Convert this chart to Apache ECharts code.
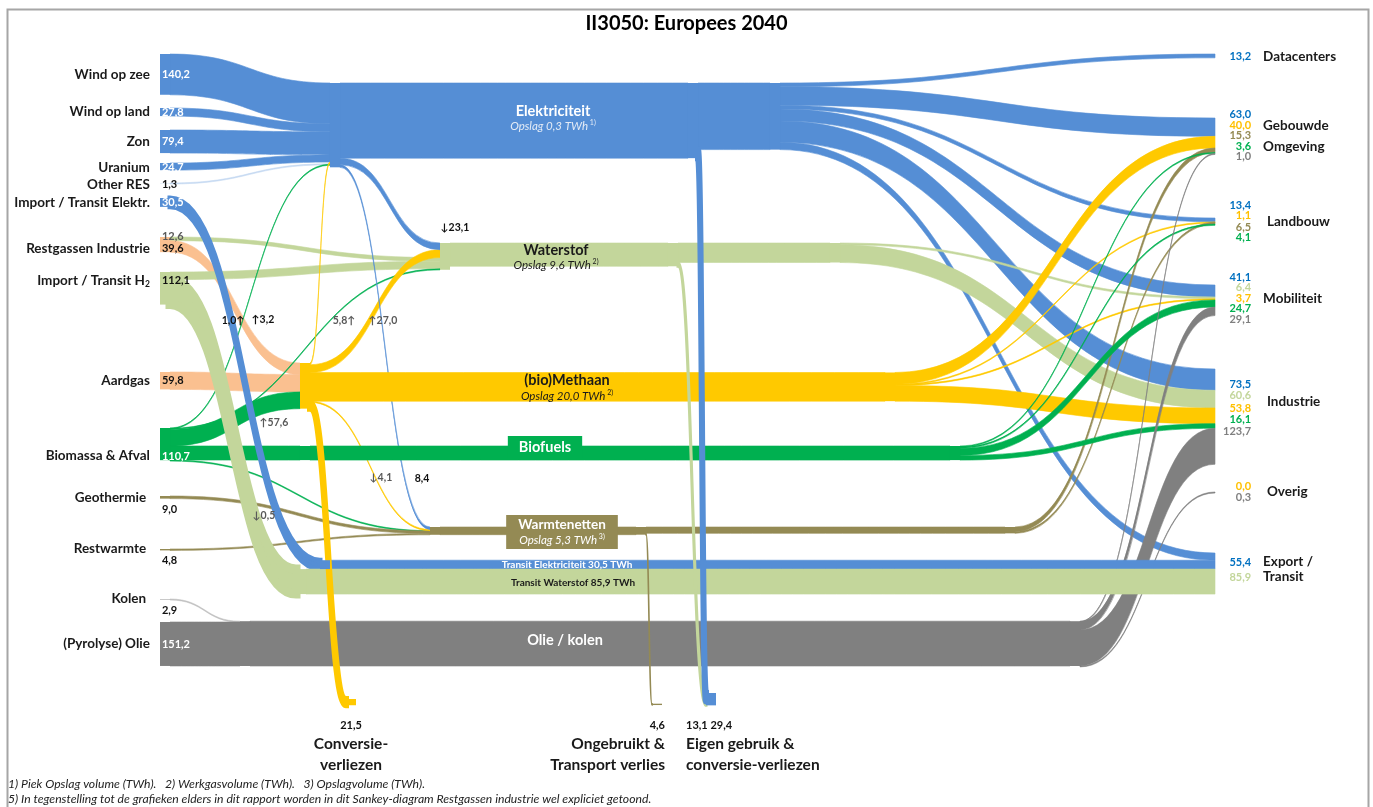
<!DOCTYPE html>
<html>
<head>
<meta charset="utf-8">
<title>II3050: Europees 2040</title>
<script src="https://cdn.jsdelivr.net/npm/echarts@6/dist/echarts.min.js"></script>
<style>
  html, body { margin: 0; padding: 0; background: #fff; }
  #chart { width: 1373px; height: 807px; }
</style>
</head>
<body>
<div id="chart"></div>
<script>
// ---------- data (TWh) ----------
const sources = ['Wind op zee', 'Wind op land', 'Zon', 'Uranium', 'Other RES', 'Import / Transit Elektr.',
  'Restgassen Industrie', 'Import / Transit H2', 'Aardgas', 'Biomassa & Afval', 'Geothermie',
  'Restwarmte', 'Kolen', '(Pyrolyse) Olie'];
const carriers = ['Elektriciteit', 'Waterstof', '(bio)Methaan', 'Warmtenetten', 'Biofuels', 'Olie / kolen'];
const sectors = ['Datacenters', 'Gebouwde Omgeving', 'Landbouw', 'Mobiliteit', 'Industrie', 'Overig', 'Export / Transit'];
const losses = ['Conversieverliezen', 'Ongebruikt & Transport verlies', 'Eigen gebruik & conversie-verliezen'];

// primary supply -> carrier
const supplyFlows = [
  ['Wind op zee', 'Elektriciteit', 140.2],
  ['Wind op land', 'Elektriciteit', 27.8],
  ['Zon', 'Elektriciteit', 79.4],
  ['Uranium', 'Elektriciteit', 24.7],
  ['Other RES', 'Elektriciteit', 1.3],
  ['Restgassen Industrie', 'Waterstof', 12.6],
  ['Restgassen Industrie', '(bio)Methaan', 39.6],
  ['Import / Transit H2', 'Waterstof', 26.2],
  ['Aardgas', '(bio)Methaan', 59.8],
  ['Biomassa & Afval', 'Elektriciteit', 1.0],
  ['Biomassa & Afval', 'Waterstof', 3.2],
  ['Biomassa & Afval', '(bio)Methaan', 57.6],
  ['Biomassa & Afval', 'Biofuels', 48.4],
  ['Biomassa & Afval', 'Warmtenetten', 0.5],
  ['Geothermie', 'Warmtenetten', 9.0],
  ['Restwarmte', 'Warmtenetten', 4.8],
  ['Kolen', 'Olie / kolen', 2.9],
  ['(Pyrolyse) Olie', 'Olie / kolen', 151.2]
];
// conversion between carriers
const conversionFlows = [
  ['(bio)Methaan', 'Elektriciteit', 5.8],
  ['(bio)Methaan', 'Waterstof', 27.0],
  ['Elektriciteit', 'Waterstof', 23.1],
  ['(bio)Methaan', 'Warmtenetten', 4.1],
  ['Elektriciteit', 'Warmtenetten', 8.4]
];
// transit: source, carrier, sector, value
const transitFlows = [
  ['Import / Transit Elektr.', 'Elektriciteit', 'Export / Transit', 30.5],
  ['Import / Transit H2', 'Waterstof', 'Export / Transit', 85.9]
];
// final use per sector, in carrier order (null = no flow)
const useDatacenters = [13.2, null, null, null, null, null];
const useGebouwde = [63.0, null, 40.0, 15.3, 3.6, 1.0];
const useLandbouw = [13.4, null, 1.1, 6.5, 4.1, null];
const useMobiliteit = [41.1, 6.4, 3.7, null, 24.7, 29.1];
const useIndustrie = [73.5, 60.6, 53.8, null, 16.1, 123.7];
const useOverig = [null, null, 0.0, null, null, 0.3];
const useExport = [24.9, null, null, null, null, null];
const sectorUse = [useDatacenters, useGebouwde, useLandbouw, useMobiliteit, useIndustrie, useOverig, useExport];
// losses
const lossFlows = [
  ['(bio)Methaan', 'Conversieverliezen', 21.5],
  ['Warmtenetten', 'Ongebruikt & Transport verlies', 4.6],
  ['Waterstof', 'Eigen gebruik & conversie-verliezen', 13.1],
  ['Elektriciteit', 'Eigen gebruik & conversie-verliezen', 29.4]
];
// storage (TWh) and footnote per carrier
const storage = [0.3, 9.6, 20.0, 5.3, null, null];
const storageNote = ['1)', '2)', '2)', '3)', null, null];

// ---------- styling / layout ----------
const FONT = 'Lato, "Liberation Sans", sans-serif';
const BOX = { left: 160, top: 40, width: 1373 - 160 - 158, height: 807 - 40 - 97 };
const C = {
  elec: '#558ED5', h2: '#C3D69B', ch4: '#FFC900', gas: '#FAC090', bio: '#00B050',
  heat: '#948A54', oil: '#808080', coal: '#BFBFBF', res: '#C5D9F1'
};
const carrierColor = [C.elec, C.h2, C.ch4, C.heat, C.bio, C.oil];
const sourceColor = {
  'Wind op zee': C.elec, 'Wind op land': C.elec, 'Zon': C.elec, 'Uranium': C.elec, 'Other RES': C.res,
  'Import / Transit Elektr.': C.elec, 'Restgassen Industrie': C.gas, 'Import / Transit H2': C.h2,
  'Aardgas': C.gas, 'Biomassa & Afval': C.bio, 'Geothermie': C.heat, 'Restwarmte': C.heat,
  'Kolen': C.coal, '(Pyrolyse) Olie': C.oil
};
const lossColor = { 'Conversieverliezen': C.ch4, 'Ongebruikt & Transport verlies': C.heat, 'Eigen gebruik & conversie-verliezen': C.elec };

// node id, depth, x, y (px, top-left of node)
const placement = [
  ['Wind op zee', 0, 160, 54], ['Wind op land', 0, 160, 108], ['Zon', 0, 160, 130],
  ['Uranium', 0, 160, 163], ['Other RES', 0, 160, 183], ['Import / Transit Elektr.', 0, 160, 198],
  ['Restgassen Industrie', 0, 160, 237], ['Import / Transit H2', 0, 160, 272], ['Aardgas', 0, 160, 372],
  ['Biomassa & Afval', 0, 160, 428], ['Geothermie', 0, 160, 496], ['Restwarmte', 0, 160, 549],
  ['Kolen', 0, 160, 599], ['(Pyrolyse) Olie', 0, 160, 622],
  ['Elektriciteit', 1, 330, 83], ['Waterstof', 1, 440, 243], ['(bio)Methaan', 1, 300, 363],
  ['Biofuels', 1, 300, 446], ['Warmtenetten', 1, 430, 527], ['Olie / kolen', 1, 240, 621.2],
  ['transit:Elektriciteit', 1, 320, 560.2], ['transit:Waterstof', 1, 296, 569.1],
  ['mid:Elektriciteit', 2, 688, 83], ['mid:Waterstof', 2, 668, 243], ['mid:Warmtenetten', 2, 636, 527],
  ['out:Elektriciteit', 3, 770, 83], ['out:Waterstof', 3, 830, 243], ['out:(bio)Methaan', 3, 885, 372.5],
  ['out:Warmtenetten', 3, 1005, 527], ['out:Biofuels', 3, 950, 446], ['out:Olie / kolen', 3, 1070, 621.2],
  ['Conversieverliezen', 3, 346, 699], ['Ongebruikt & Transport verlies', 3, 652, 703.7],
  ['Eigen gebruik & conversie-verliezen', 3, 706, 693],
  ['Datacenters', 4, 1215, 54], ['Gebouwde Omgeving', 4, 1215, 118], ['Landbouw', 4, 1215, 218],
  ['Mobiliteit', 4, 1215, 285], ['Industrie', 4, 1215, 369], ['Overig', 4, 1215, 492],
  ['Export / Transit', 4, 1215, 553]
];
const hasMid = id => placement.some(p => p[0] === 'mid:' + id);
// extra outline on steep links so they keep a visible width
const linkStroke = {
  '(bio)Methaan>Conversieverliezen': 6,
  'mid:Elektriciteit>Eigen gebruik & conversie-verliezen': 6,
  'mid:Waterstof>Eigen gebruik & conversie-verliezen': 3,
  'mid:Warmtenetten>Ongebruikt & Transport verlies': 1.6,
  'Import / Transit Elektr.>transit:Elektriciteit': 5,
  'Import / Transit H2>transit:Waterstof': 9
};

const fmt = v => v.toFixed(1).replace('.', ',');
const FS = '\u2007';
const padR = s => s + FS.repeat(Math.max(0, 5 - s.length));
const padL = s => FS.repeat(Math.max(0, 5 - s.length)) + s;

// ---------- labels ----------
const srcRich = {
  n: { fontFamily: FONT, fontSize: 13.5, fontWeight: 'bold', color: '#1a1a1a', lineHeight: 12 },
  sub: { fontFamily: FONT, fontSize: 8.5, fontWeight: 'bold', color: '#1a1a1a', lineHeight: 12, padding: [7, 0, 0, 0] },
  vw: { fontFamily: FONT, fontSize: 11, fontWeight: 'bold', color: '#ffffff', padding: [0, 0, 0, 12], lineHeight: 12 },
  vk: { fontFamily: FONT, fontSize: 11, fontWeight: 'bold', color: '#111111', padding: [0, 0, 0, 12], lineHeight: 12 },
  vg: { fontFamily: FONT, fontSize: 11, fontWeight: 'bold', color: '#595959', padding: [0, 0, 0, 12], lineHeight: 12 }
};
const sourceValueStyle = { 'Other RES': 'vk', 'Import / Transit H2': 'vk', 'Aardgas': 'vk' };
const sourceBelow = ['Geothermie', 'Restwarmte', 'Kolen'];
const sourceDy = { 'Biomassa & Afval': 12, 'Geothermie': 6, 'Restwarmte': 5, 'Kolen': 5,
  'Restgassen Industrie': -2, 'Import / Transit H2': -8, 'Uranium': 1, 'Other RES': 1 };

function sourceLabel(name) {
  const flows = supplyFlows.filter(f => f[0] === name).concat(transitFlows.filter(f => f[0] === name).map(f => [f[0], f[2], f[3]]));
  const total = flows.reduce((s, f) => s + f[2], 0);
  let text;
  if (name === 'Restgassen Industrie') {
    text = flows.map((f, i) => (i === 1 ? `{n|${name}}` : '') + `{${i === 0 ? 'vg' : 'vk'}|${padR(fmt(f[2]))}}`).join('\n');
  } else if (name === 'Import / Transit H2') {
    text = `{n|Import / Transit H}{sub|2}{vk|${padR(fmt(total))}}`;
  } else if (sourceBelow.includes(name)) {
    text = `{n|${name}}{vk|${FS.repeat(5)}}\n{vk|${padR(fmt(total))}}`;
  } else {
    text = `{n|${name}}{${sourceValueStyle[name] || 'vw'}|${padR(fmt(total))}}`;
  }
  return { show: true, position: 'left', distance: 0, align: 'right', offset: [30, sourceDy[name] || 0], formatter: text, rich: srcRich };
}

const sinkKeys = ['vE', 'vH', 'vM', 'vW', 'vB', 'vO'];
const sinkColors = ['#0070C0', '#C3D69B', '#FFC000', '#948A54', '#00B050', '#7F7F7F'];
const sinkRich = { nm: { fontFamily: FONT, fontSize: 13.5, fontWeight: 'bold', color: '#1a1a1a', padding: [0, 0, 0, 12] },
  nmo: { fontFamily: FONT, fontSize: 13.5, fontWeight: 'bold', color: '#1a1a1a', padding: [0, 0, 0, 12], lineHeight: 1 },
  vp: { fontFamily: FONT, fontSize: 11, fontWeight: 'bold', color: 'rgba(0,0,0,0)', lineHeight: 1 } };
sinkKeys.forEach((k, i) => { sinkRich[k] = { fontFamily: FONT, fontSize: 11, fontWeight: 'bold', color: sinkColors[i] }; });
// where the sector name goes: integer = beside value line i, .5 = own line between
const sectorNameSlots = {
  'Datacenters': [['Datacenters', 0]], 'Gebouwde Omgeving': [['Gebouwde', 1], ['Omgeving', 3]],
  'Landbouw': [['Landbouw', 1.5]], 'Mobiliteit': [['Mobiliteit', 2]], 'Industrie': [['Industrie', 1.5]],
  'Overig': [['Overig', 0.5]], 'Export / Transit': [['Export /', 0], ['Transit', 1]]
};
const sectorLine = { 'Industrie': 11.5, 'Export / Transit': 15 };
const sectorDy = { 'Mobiliteit': -2, 'Industrie': -9, 'Export / Transit': -4, 'Datacenters': 1 };

function sectorLabel(sector) {
  const si = sectors.indexOf(sector);
  const vals = [];
  carriers.forEach((c, ci) => {
    let v = sectorUse[si][ci];
    transitFlows.filter(t => t[2] === sector && t[1] === c).forEach(t => { v = (v || 0) + t[3]; });
    if (v != null) vals.push(`{${sinkKeys[ci]}|${padL(fmt(v))}}`);
  });
  const slots = sectorNameSlots[sector];
  slots.filter(s => Number.isInteger(s[1])).forEach(s => { vals[s[1]] += `{nm|${s[0]}}`; });
  slots.filter(s => !Number.isInteger(s[1])).reverse().forEach(s => {
    vals.splice(Math.ceil(s[1]), 0, `{vp|${FS.repeat(5)}}{nmo|${s[0]}}`);
  });
  return { show: true, position: 'right', distance: -2, lineHeight: sectorLine[sector] || 10.5,
    offset: [0, sectorDy[sector] || 0], formatter: vals.join('\n'), rich: sinkRich };
}

const lossRich = {
  v: { fontFamily: FONT, fontSize: 11, fontWeight: 'bold', color: '#111', lineHeight: 16 },
  n: { fontFamily: FONT, fontSize: 15.5, fontWeight: 'bold', color: '#1a1a1a', lineHeight: 21 }
};
const lossLabelPos = {
  'Conversieverliezen': { lines: ['Conversie-', 'verliezen'], align: 'center', dx: 0 },
  'Ongebruikt & Transport verlies': { lines: ['Ongebruikt &', 'Transport verlies'], align: 'right', dx: 8 },
  'Eigen gebruik & conversie-verliezen': { lines: ['Eigen gebruik &', 'conversie-verliezen'], align: 'left', dx: -25 }
};
function lossLabel(name) {
  const vals = lossFlows.filter(f => f[1] === name).map(f => f[2]).sort((a, b) => a - b).map(fmt).join(' ');
  const p = lossLabelPos[name];
  return { show: true, position: 'bottom', distance: 12, align: p.align, offset: [p.dx, 0],
    formatter: `{v|${vals}}\n` + p.lines.map(l => `{n|${l}}`).join('\n'), rich: lossRich };
}

// carrier band labels (centre offsets from the in-node)
const carrierLabel = {
  'Elektriciteit': { dx: 218, dy: -7, t: '#ffffff', s: '#e3ebf6' },
  'Waterstof': { dx: 111, dy: 1, t: '#1a1a1a', s: '#1a1a1a' },
  '(bio)Methaan': { dx: 262, dy: 2, t: '#1a1a1a', s: '#1a1a1a' },
  'Warmtenetten': { dx: 127, dy: 1, t: '#ffffff', s: '#ffffff', box: C.heat },
  'Biofuels': { dx: 240, dy: -6, t: '#ffffff', s: '#ffffff', box: C.bio },
  'Olie / kolen': { dx: 320, dy: -3, t: '#ffffff', s: '#ffffff' }
};
function carrierBandLabel(c) {
  const ci = carriers.indexOf(c);
  const st = carrierLabel[c];
  let text = `{t|${c}}`;
  if (storage[ci] != null) text += `\n{s|Opslag ${fmt(storage[ci])} TWh}{sup| ${storageNote[ci]}}`;
  return {
    show: true, position: 'inside', offset: [st.dx, st.dy], formatter: text,
    backgroundColor: st.box || 'transparent', padding: st.box ? (storage[ci] != null ? [2, 12] : [3, 11]) : 0,
    rich: {
      t: { fontFamily: FONT, fontSize: c === 'Warmtenetten' ? 13.5 : 14.5, fontWeight: 'bold', color: st.t, lineHeight: 16 },
      s: { fontFamily: FONT, fontSize: 11.5, fontStyle: 'italic', color: st.s, lineHeight: 14 },
      sup: { fontFamily: FONT, fontSize: 7, color: st.s, lineHeight: 14, verticalAlign: 'top' }
    }
  };
}
const transitLabel = {
  'transit:Elektriciteit': { text: 'Transit Elektriciteit', dx: 242, dy: 0, color: '#ffffff' },
  'transit:Waterstof': { text: 'Transit Waterstof', dx: 272, dy: 1, color: '#1a1a1a' }
};

// small flow annotations: arrow, arrow before/after, offset, bold
const flowNotes = {
  'Biomassa & Afval>Elektriciteit': ['↑', 'after', [-17, 24], true],
  'Biomassa & Afval>Waterstof': ['↑', 'before', [-42, -29], true],
  'Biomassa & Afval>(bio)Methaan': ['↑', 'before', [39, 4], false],
  'Biomassa & Afval>Warmtenetten': ['↓', 'before', [-36, 20], false],
  '(bio)Methaan>Elektriciteit': ['↑', 'after', [24, 57], false],
  '(bio)Methaan>Waterstof': ['↑', 'before', [8, 9], false],
  '(bio)Methaan>Warmtenetten': ['↓', 'before', [11, 12], false],
  'Elektriciteit>Warmtenetten': ['', 'before', [37, 131], true],
  'Elektriciteit>Waterstof': ['↓', 'before', [65, 24], true]
};

// ---------- build nodes ----------
function nodeFill(id) {
  if (sourceColor[id]) return sourceColor[id];
  const base = id.replace(/^(mid|out|transit):/, '');
  if (carriers.includes(base)) return carrierColor[carriers.indexOf(base)];
  if (lossColor[id]) return lossColor[id];
  return 'rgba(0,0,0,0)';
}
const nodes = placement.map(([id, depth, x, y]) => {
  const node = {
    name: id, depth,
    localX: (x - BOX.left) / BOX.width, localY: (y - BOX.top) / BOX.height,
    itemStyle: { color: nodeFill(id), borderWidth: 0 },
    label: { show: false }
  };
  if (sources.includes(id)) node.label = sourceLabel(id);
  else if (sectors.includes(id)) node.label = sectorLabel(id);
  else if (losses.includes(id)) node.label = lossLabel(id);
  else if (carriers.includes(id)) node.label = carrierBandLabel(id);
  else if (transitLabel[id]) {
    const t = transitLabel[id];
    const v = transitFlows.find(f => 'transit:' + f[1] === id)[3];
    node.label = { show: true, position: 'inside', offset: [t.dx, t.dy], formatter: `${t.text} ${fmt(v)} TWh`,
      fontFamily: FONT, fontSize: 10, fontWeight: 'bold', color: t.color };
  }
  return node;
});

// ---------- build links ----------
const links = [];
function addLink(source, target, value, color, note) {
  if (!(value > 0)) return;
  const key = source + '>' + target;
  const link = { source, target, value, lineStyle: { color, borderColor: color, borderWidth: linkStroke[key] || 0.6 } };
  if (note) {
    const txt = note[0] ? (note[1] === 'after' ? fmt(value) + note[0] : note[0] + fmt(value)) : fmt(value);
    link.edgeLabel = { show: true, formatter: txt, offset: note[2], fontFamily: FONT, fontSize: 10.5,
      fontWeight: 'bold', color: note[3] ? '#111' : '#595959' };
  }
  links.push(link);
}
supplyFlows.forEach(([s, t, v]) => {
  const color = (s === 'Restgassen Industrie' && t === 'Waterstof') ? C.h2 : sourceColor[s];
  addLink(s, t, v, color, flowNotes[s + '>' + t]);
});
conversionFlows.forEach(([s, t, v]) => addLink(s, t, v, nodeFill(s), flowNotes[s + '>' + t]));
carriers.forEach((c, ci) => {
  const use = sectorUse.reduce((sum, u) => sum + (u[ci] || 0), 0);
  const midLoss = hasMid(c) ? lossFlows.filter(f => f[0] === c).reduce((s, f) => s + f[2], 0) : 0;
  const col = carrierColor[ci];
  if (hasMid(c)) {
    addLink(c, 'mid:' + c, use + midLoss, col);
    addLink('mid:' + c, 'out:' + c, use, col);
  } else {
    addLink(c, 'out:' + c, use, col);
  }
  sectors.forEach((s, si) => addLink('out:' + c, s, sectorUse[si][ci], col));
});
transitFlows.forEach(([s, c, t, v]) => {
  const col = carrierColor[carriers.indexOf(c)];
  addLink(s, 'transit:' + c, v, col);
  addLink('transit:' + c, t, v, col);
});
lossFlows.forEach(([c, t, v]) => addLink(hasMid(c) ? 'mid:' + c : c, t, v, carrierColor[carriers.indexOf(c)]));

// ---------- chart ----------
const chart = echarts.init(document.getElementById('chart'));
chart.setOption({
  backgroundColor: '#ffffff',
  animation: false,
  title: [
    { text: 'II3050: Europees 2040', left: 'center', top: 9,
      textStyle: { fontFamily: FONT, fontSize: 20, fontWeight: 'bold', color: '#000' } },
    { text: '1) Piek Opslag volume (TWh).   2) Werkgasvolume (TWh).   3) Opslagvolume (TWh).\n5) In tegenstelling tot de grafieken elders in dit rapport worden in dit Sankey-diagram Restgassen industrie wel expliciet getoond.',
      left: 8, top: 777, padding: 0,
      textStyle: { fontFamily: FONT, fontSize: 12.2, fontStyle: 'italic', fontWeight: 'normal', color: '#222', lineHeight: 15 } }
  ],
  graphic: [{ type: 'rect', left: 5, top: 7, z: -10, silent: true,
    shape: { width: 1361, height: 830 }, style: { fill: 'none', stroke: '#a6a6a6', lineWidth: 2 } }],
  series: [{
    type: 'sankey',
    left: BOX.left, top: BOX.top, width: BOX.width, height: BOX.height,
    nodeWidth: 10, nodeGap: 33.5, nodeAlign: 'left', layoutIterations: 0,
    draggable: false,
    emphasis: { disabled: true },
    label: { show: false },
    edgeLabel: { show: false },
    lineStyle: { curveness: 0.5, opacity: 1 },
    data: nodes,
    links: links
  }]
});
</script>
</body>
</html>
